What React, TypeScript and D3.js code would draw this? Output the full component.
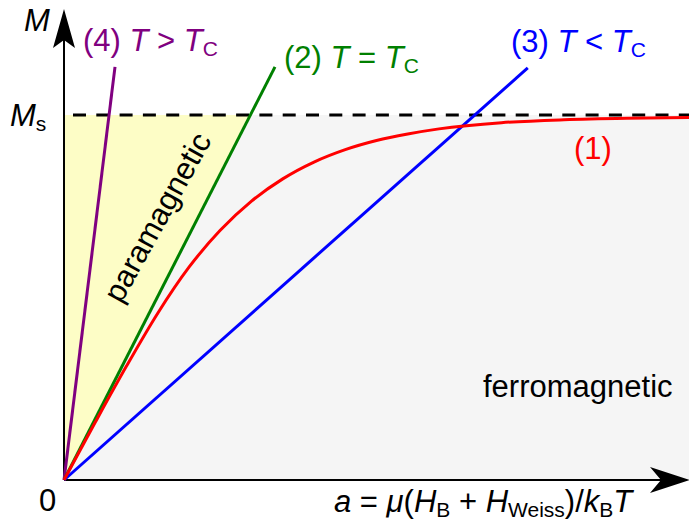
import React from "react";
import * as d3 from "d3";

// Reduced field a = μ(H_B + H_Weiss)/k_B T on the horizontal axis, M/Ms vertically
const aDomain = [0, 10];
const mDomain = [0, 1];

// Curve (1): magnetisation vs. a
const curveA = [0, 0.5, 1, 1.5, 2, 2.5, 3, 3.5, 4, 4.5, 5, 5.5, 6, 7, 8, 9, 10];
const curveM = [0, 0.158, 0.312, 0.457, 0.583, 0.684, 0.764, 0.825, 0.871, 0.905, 0.93, 0.948, 0.962, 0.979, 0.987, 0.991, 0.993];

// Straight lines (4), (2), (3) from the origin to their upper end
const lineNames = ["(4)", "(2)", "(3)"];
const lineEndA = [0.816, 3.376, 7.42];
const lineEndM = [1.132, 1.132, 1.129];
const lineColors = ["#800080", "#008000", "#0000ff"];

const W = 689;
const H = 529;
const FONT = "'Liberation Sans', Arial, Helvetica, sans-serif";
const FS = 31;

export default function App() {
  const x = d3.scaleLinear().domain(aDomain).range([64, 689]);
  const y = d3.scaleLinear().domain(mDomain).range([480, 115]);
  const x0 = x(0);
  const y0 = y(0);
  const yS = y(1);

  const path = d3.line<[number, number]>().x((d) => x(d[0])).y((d) => y(d[1]));
  const redPath = d3
    .line<[number, number]>()
    .x((d) => x(d[0]))
    .y((d) => y(d[1]))
    .curve(d3.curveMonotoneX)(curveA.map((a, i) => [a, curveM[i]] as [number, number]));

  // Where the T = Tc line reaches Ms bounds the paramagnetic wedge
  const greenAtMs = lineEndA[1] / lineEndM[1];
  const yellow = path([[0, 0], [0, 1], [greenAtMs, 1]]) + "Z";
  const grey = path([[greenAtMs, 1], [aDomain[1], 1], [aDomain[1], 0], [0, 0]]) + "Z";

  const arrowUp = `M${x0},${9} L${x0 + 11},${48} L${x0},${40} L${x0 - 11},${48} Z`;
  const xEnd = 690;
  const arrowRight = `M${xEnd},${y0} L${xEnd - 40},${y0 - 13} L${xEnd - 29},${y0} L${xEnd - 40},${y0 + 13} Z`;

  const sub = { fontSize: 21, fontStyle: "normal" as const };

  return (
    <svg
      width={W}
      height={H}
      style={{ position: "absolute", left: 0, top: 0, background: "#fff" }}
      fontFamily={FONT}
      fontSize={FS}
    >
      <path d={grey} fill="#f5f5f5" />
      <path d={yellow} fill="#fdfdc6" />

      {/* Ms level */}
      <line x1={x0 + 9} x2={W} y1={yS} y2={yS} stroke="#000" strokeWidth={3} strokeDasharray="13,10.3" />

      {/* axes */}
      <line x1={x0} x2={x0} y1={y0} y2={30} stroke="#000" strokeWidth={2} />
      <line x1={x0} x2={xEnd - 20} y1={y0} y2={y0} stroke="#000" strokeWidth={2} />
      <path d={arrowUp} fill="#000" />
      <path d={arrowRight} fill="#000" />

      {/* straight lines */}
      {lineNames.map((n, i) => (
        <path
          key={n}
          d={path([[0, 0], [lineEndA[i], lineEndM[i]]]) || ""}
          stroke={lineColors[i]}
          strokeWidth={3}
          fill="none"
        />
      ))}

      {/* curve (1) */}
      <path d={redPath || ""} stroke="#ff0000" strokeWidth={3} fill="none" />

      {/* labels */}
      <text x={24} y={31} fontStyle="italic">M</text>
      <text x={10} y={126}>
        <tspan fontStyle="italic">M</tspan>
        <tspan {...sub} dy={5}>s</tspan>
      </text>
      <text x={39} y={511}>0</text>

      <text x={83} y={51} fill={lineColors[0]}>
        {"(4) "}
        <tspan fontStyle="italic">T</tspan>
        {" > "}
        <tspan fontStyle="italic">T</tspan>
        <tspan {...sub} dy={5}>C</tspan>
      </text>
      <text x={284} y={68} fill={lineColors[1]}>
        {"(2) "}
        <tspan fontStyle="italic">T</tspan>
        {" = "}
        <tspan fontStyle="italic">T</tspan>
        <tspan {...sub} dy={5}>C</tspan>
      </text>
      <text x={511} y={52} fill={lineColors[2]}>
        {"(3) "}
        <tspan fontStyle="italic">T</tspan>
        {" < "}
        <tspan fontStyle="italic">T</tspan>
        <tspan {...sub} dy={5}>C</tspan>
      </text>
      <text x={574} y={159} fill="#ff0000">(1)</text>

      <text x={483} y={397}>ferromagnetic</text>
      <text transform="translate(157,217) rotate(-61)" textAnchor="middle" dy={11}>paramagnetic</text>

      <text x={334} y={512}>
        <tspan fontStyle="italic">a</tspan>
        {" = "}
        <tspan fontStyle="italic">μ</tspan>
        {"("}
        <tspan fontStyle="italic">H</tspan>
        <tspan {...sub} dy={5}>B</tspan>
        <tspan dy={-5}>{" + "}</tspan>
        <tspan fontStyle="italic">H</tspan>
        <tspan {...sub} dy={5}>Weiss</tspan>
        <tspan dy={-5}>{")/"}</tspan>
        <tspan fontStyle="italic">k</tspan>
        <tspan {...sub} dy={5}>B</tspan>
        <tspan fontStyle="italic" dy={-5}>T</tspan>
      </text>
    </svg>
  );
}
